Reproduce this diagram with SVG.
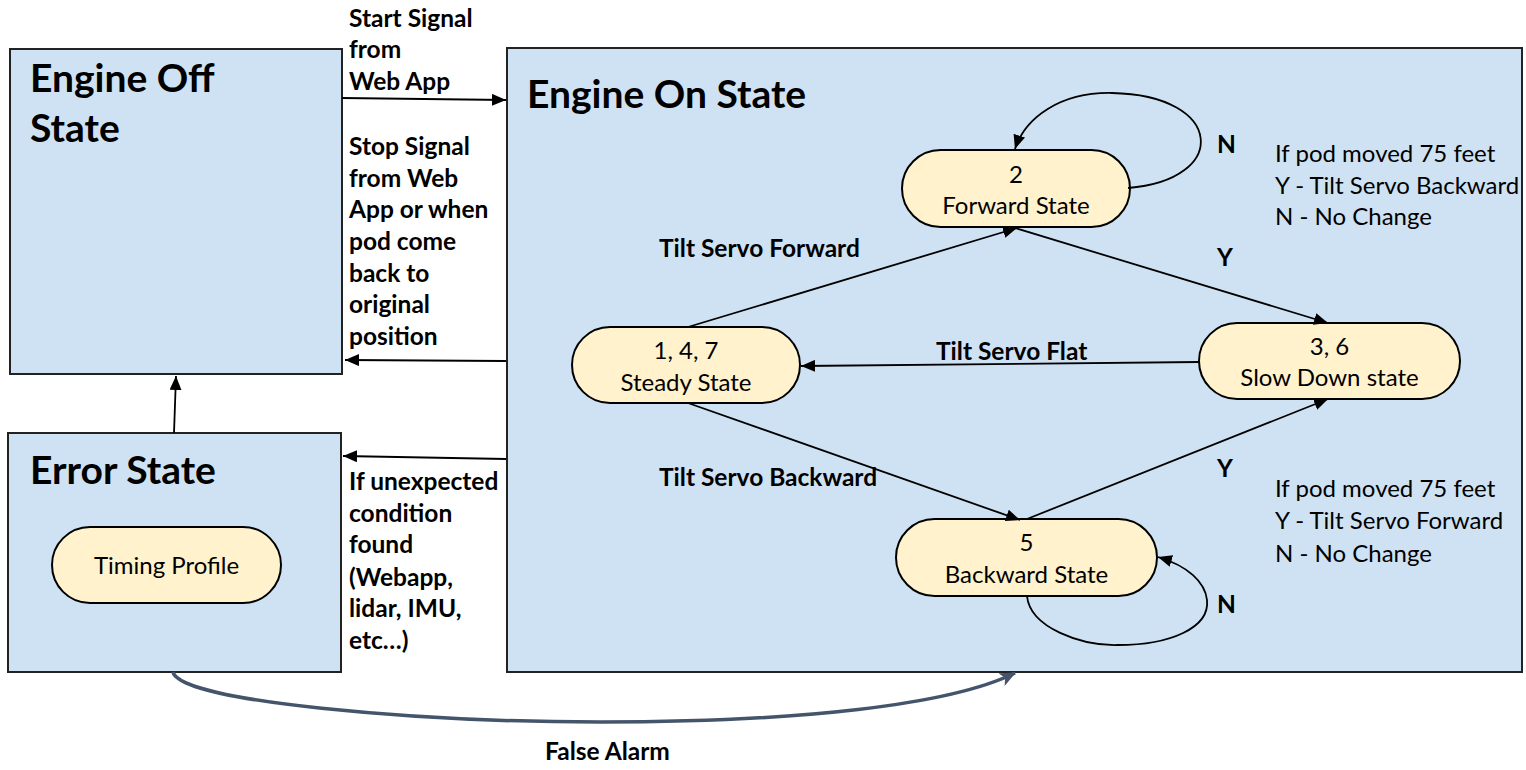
<svg xmlns="http://www.w3.org/2000/svg" width="1526" height="770" viewBox="0 0 1526 770">
<defs>
<marker id="arr" viewBox="0 0 14 12" refX="14" refY="6" markerWidth="14" markerHeight="12" markerUnits="userSpaceOnUse" orient="auto">
<path d="M0,0 L14,6 L0,12 Z" fill="#000"/>
</marker>
<marker id="arrS" viewBox="0 0 16 14" refX="15" refY="7" markerWidth="16" markerHeight="14" markerUnits="userSpaceOnUse" orient="auto">
<path d="M0,0 L16,7 L0,14 L4,7 Z" fill="#44546A"/>
</marker>
<style>
.box{fill:#CFE2F3;stroke:#222;stroke-width:2}
.pill{fill:#FFF2CC;stroke:#000;stroke-width:2}
.title{font-family:Lato,"Liberation Sans",sans-serif;font-weight:bold;font-size:39px;fill:#000}
.lbl{font-family:Lato,"Liberation Sans",sans-serif;font-weight:bold;font-size:24.5px;fill:#000}
.txt{font-family:Lato,"Liberation Sans",sans-serif;font-size:24px;fill:#000}
.ctr{text-anchor:middle}
.ln{fill:none;stroke:#000;stroke-width:1.8}
</style>
</defs>

<g id="engine-off">
<rect class="box" x="10" y="49" width="332" height="325"/>
<text class="title" x="30" y="92">Engine Off</text>
<text class="title" x="30" y="142">State</text>
</g>

<g id="error-state">
<rect class="box" x="8" y="433" width="333" height="239"/>
<text class="title" x="30" y="484">Error State</text>
</g>

<g id="timing-profile">
<rect class="pill" x="52" y="527" width="229" height="76" rx="38"/>
<text class="txt ctr" x="166.5" y="574">Timing Profile</text>
</g>

<g id="engine-on">
<rect class="box" x="507" y="48" width="1015" height="624"/>
<text class="title" x="527" y="108">Engine On State</text>
</g>

<g id="forward">
<rect class="pill" x="902" y="150" width="228" height="77" rx="38.5"/>
<text class="txt ctr" x="1016" y="183">2</text>
<text class="txt ctr" x="1016" y="214">Forward State</text>
</g>

<g id="steady">
<rect class="pill" x="572" y="327" width="228" height="76" rx="38"/>
<text class="txt ctr" x="686" y="359">1, 4, 7</text>
<text class="txt ctr" x="686" y="391">Steady State</text>
</g>

<g id="slowdown">
<rect class="pill" x="1199" y="323" width="261" height="76" rx="38"/>
<text class="txt ctr" x="1329.5" y="355">3, 6</text>
<text class="txt ctr" x="1329.5" y="386">Slow Down state</text>
</g>

<g id="backward">
<rect class="pill" x="896" y="519" width="261" height="77" rx="38.5"/>
<text class="txt ctr" x="1026.5" y="551">5</text>
<text class="txt ctr" x="1026.5" y="583">Backward State</text>
</g>

<g id="connectors">
<path class="ln" d="M342,98 L506,100" marker-end="url(#arr)"/>
<path class="ln" d="M506,361 L345,360" marker-end="url(#arr)"/>
<path class="ln" d="M174,433 L176,376" marker-end="url(#arr)"/>
<path class="ln" d="M506,459 L343,456" marker-end="url(#arr)"/>
<path class="ln" d="M688,327 L1017,228" marker-end="url(#arr)"/>
<path class="ln" d="M1015,228 L1328,323" marker-end="url(#arr)"/>
<path class="ln" d="M1199,362 L801,366" marker-end="url(#arr)"/>
<path class="ln" d="M688,403 L1020,520" marker-end="url(#arr)"/>
<path class="ln" d="M1027,519 L1328,399" marker-end="url(#arr)"/>
<path class="ln" d="M1128,188 C1230,180 1225,95 1112,93 C1060,92 1025,118 1015,149" marker-end="url(#arr)"/>
<path class="ln" d="M1027,596 C1030,628 1082,646 1118,645 C1170,645 1210,628 1207,600 C1205,582 1188,566 1158,557" marker-end="url(#arr)"/>
<path d="M173,672 C180,702 420,722 600,722 C800,722 950,705 1015,673" fill="none" stroke="#44546A" stroke-width="3.5" marker-end="url(#arrS)"/>
</g>

<g id="labels">
<text class="lbl" x="349" y="27">Start Signal</text>
<text class="lbl" x="349" y="58">from</text>
<text class="lbl" x="349" y="90">Web App</text>
<text class="lbl" x="349" y="155">Stop Signal</text>
<text class="lbl" x="349" y="187">from Web</text>
<text class="lbl" x="349" y="218">App or when</text>
<text class="lbl" x="349" y="250">pod come</text>
<text class="lbl" x="349" y="282">back to</text>
<text class="lbl" x="349" y="313">original</text>
<text class="lbl" x="349" y="345">position</text>
<text class="lbl" x="349" y="490">If unexpected</text>
<text class="lbl" x="349" y="522">condition</text>
<text class="lbl" x="349" y="553">found</text>
<text class="lbl" x="349" y="586">(Webapp,</text>
<text class="lbl" x="349" y="617">lidar, IMU,</text>
<text class="lbl" x="349" y="649">etc…)</text>
<text class="lbl" x="659" y="257">Tilt Servo Forward</text>
<text class="lbl" x="936" y="360">Tilt Servo Flat</text>
<text class="lbl" x="659" y="486">Tilt Servo Backward</text>
<text class="lbl" x="1217" y="153">N</text>
<text class="lbl" x="1217" y="266">Y</text>
<text class="lbl" x="1217" y="477">Y</text>
<text class="lbl" x="1217" y="613">N</text>
<text class="lbl" x="545" y="760">False Alarm</text>
<text class="txt" x="1275" y="162">If pod moved 75 feet</text>
<text class="txt" x="1275" y="194">Y - Tilt Servo Backward</text>
<text class="txt" x="1275" y="225">N - No Change</text>
<text class="txt" x="1275" y="497">If pod moved 75 feet</text>
<text class="txt" x="1275" y="529">Y - Tilt Servo Forward</text>
<text class="txt" x="1275" y="562">N - No Change</text>
</g>
</svg>
